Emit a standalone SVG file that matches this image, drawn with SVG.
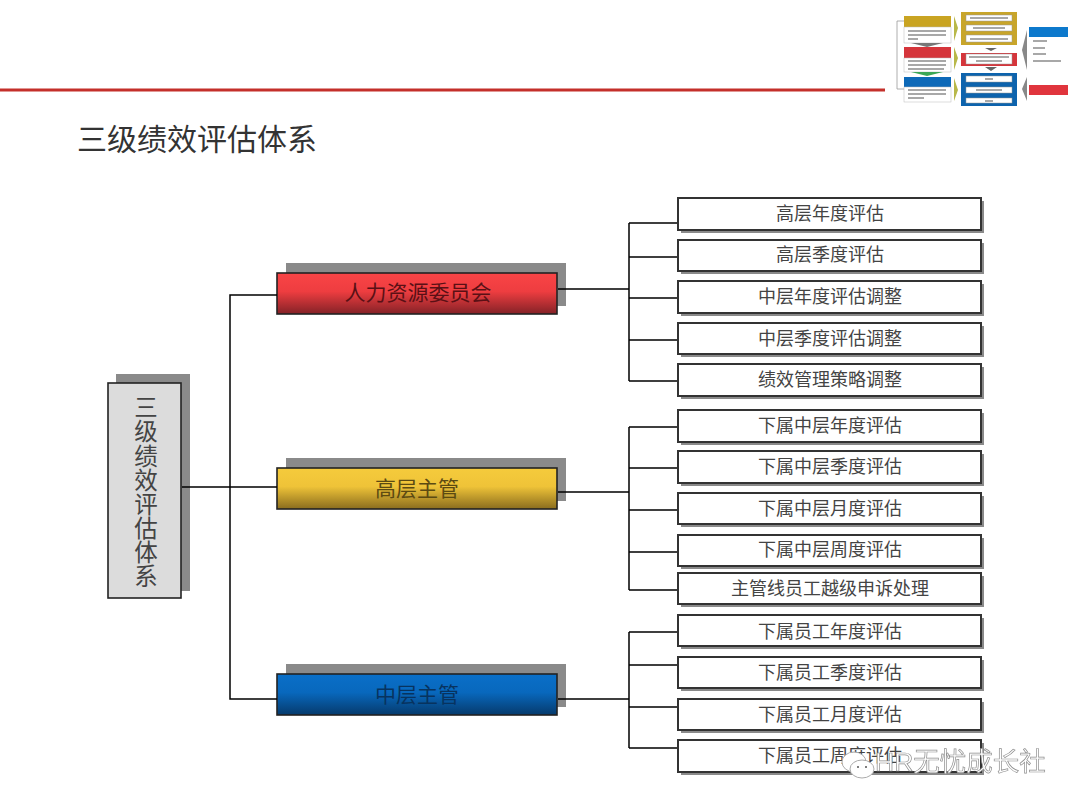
<svg xmlns="http://www.w3.org/2000/svg" width="1080" height="810" viewBox="0 0 1080 810">
<style>
text{font-family:"Liberation Sans","Noto Sans CJK SC",sans-serif}
.cn{fill:none;stroke:#000;stroke-width:1.5}
.lf{fill:#fff;stroke:#333;stroke-width:2}
.sh{fill:#8a8a8a}
.lt{font-size:18px;fill:#444;text-anchor:middle}
.hd{stroke:#222;stroke-width:1.6}
.ht{font-size:21px;text-anchor:middle}
.vt{font-size:23.5px;fill:#444;text-anchor:middle}
.tw{fill:#fff;stroke:#999;stroke-width:.5}
.tl{fill:#a8a8a8}
</style>
<defs>
<linearGradient id="r" x1="0" y1="0" x2="0" y2="1"><stop offset="0" stop-color="#f94446"/><stop offset=".45" stop-color="#ee3d40"/><stop offset="1" stop-color="#842227"/></linearGradient>
<linearGradient id="y" x1="0" y1="0" x2="0" y2="1"><stop offset="0" stop-color="#f5cb3c"/><stop offset=".45" stop-color="#efc338"/><stop offset="1" stop-color="#8a6d1e"/></linearGradient>
<linearGradient id="b" x1="0" y1="0" x2="0" y2="1"><stop offset="0" stop-color="#0a6fc8"/><stop offset=".45" stop-color="#0868bd"/><stop offset="1" stop-color="#063a6c"/></linearGradient>
<filter id="soft" x="-5%" y="-5%" width="110%" height="110%"><feGaussianBlur stdDeviation=".7"/></filter>
<filter id="wm" x="-5%" y="-20%" width="110%" height="140%"><feGaussianBlur stdDeviation=".35"/></filter>
</defs>
<rect width="1080" height="810" fill="#fff"/>
<line x1="0" y1="90" x2="885" y2="90" stroke="#c4302b" stroke-width="2.8"/>
<text x="77" y="150" font-size="30" fill="#333">三级绩效评估体系</text>

<g id="thumbnail" filter="url(#soft)">
<path d="M904 21H897V89H904" fill="none" stroke="#999" stroke-width=".8"/>
<rect x="904" y="16" width="47" height="11" fill="#c9a420"/>
<rect x="904" y="27" width="47" height="16" fill="#fff" stroke="#bbb" stroke-width=".5"/>
<rect class="tl" x="908" y="30" width="38" height="2"/><rect class="tl" x="908" y="34" width="38" height="2"/><rect class="tl" x="908" y="38" width="10" height="2"/>
<path d="M911 43H943L927 47Z" fill="#777"/>
<rect x="904" y="47" width="47" height="11" fill="#d5343a"/>
<rect x="904" y="58" width="47" height="14" fill="#fff" stroke="#bbb" stroke-width=".5"/>
<rect class="tl" x="908" y="60" width="38" height="2"/><rect class="tl" x="908" y="64" width="38" height="2"/><rect class="tl" x="908" y="68" width="36" height="2"/>
<path d="M911 72H943L927 76Z" fill="#3aa655"/>
<rect x="904" y="77" width="47" height="10" fill="#0b69b8"/>
<rect x="904" y="87" width="47" height="15" fill="#fff" stroke="#bbb" stroke-width=".5"/>
<rect class="tl" x="908" y="89" width="38" height="2"/><rect class="tl" x="908" y="93" width="38" height="2"/><rect class="tl" x="908" y="97" width="16" height="2"/>
<path d="M954 16L958 28L954 41Z" fill="#b8b84a"/>
<path d="M954 47L958 58L954 70Z" fill="#b8b84a"/>
<path d="M954 78L958 90L954 101Z" fill="#b8b84a"/>
<rect x="961" y="12" width="56" height="33" fill="#c8a52a"/>
<rect x="966" y="15" width="46" height="6" class="tw"/><rect class="tl" x="970" y="17" width="38" height="2"/>
<rect x="966" y="25" width="46" height="6" class="tw"/><rect class="tl" x="973" y="27" width="32" height="2"/>
<rect x="966" y="35" width="46" height="7" class="tw"/><rect class="tl" x="970" y="38" width="38" height="2"/>
<path d="M985 48H997L991 51Z" fill="#666"/>
<rect x="961" y="53" width="56" height="13" fill="#d5343a"/>
<rect x="966" y="54" width="46" height="10" class="tw"/><rect class="tl" x="969" y="56" width="40" height="2"/><rect class="tl" x="976" y="60" width="26" height="2"/>
<path d="M985 67H997L991 71Z" fill="#666"/>
<rect x="961" y="73" width="56" height="33" fill="#0b63ad"/>
<rect x="966" y="76" width="46" height="6" class="tw"/><rect class="tl" x="985" y="78" width="8" height="2"/>
<rect x="966" y="87" width="46" height="6" class="tw"/><rect class="tl" x="976" y="89" width="26" height="2"/>
<rect x="966" y="98" width="46" height="5" class="tw"/><rect class="tl" x="985" y="100" width="8" height="2"/>
<path d="M1027 30L1022 50L1027 70Z" fill="#888"/>
<path d="M1027 77L1022 89L1027 101Z" fill="#888"/>
<rect x="1029" y="27" width="39" height="10" fill="#0b79cc"/>
<rect x="1029" y="85" width="39" height="10" fill="#e0353c"/>
<rect class="tl" x="1033" y="40" width="14" height="2"/>
<rect class="tl" x="1033" y="47" width="12" height="2"/>
<rect class="tl" x="1033" y="53" width="13" height="2"/>
<rect class="tl" x="1033" y="60" width="28" height="2"/>
</g>

<g id="root">
<rect class="sh" x="116" y="374" width="74" height="217"/>
<rect x="108" y="383" width="73" height="215" fill="#dcdcdc" stroke="#222" stroke-width="1.6"/>
<text class="vt" x="146" y="416">三</text>
<text class="vt" x="146" y="440">级</text>
<text class="vt" x="146" y="465">绩</text>
<text class="vt" x="146" y="489">效</text>
<text class="vt" x="146" y="513">评</text>
<text class="vt" x="146" y="537">估</text>
<text class="vt" x="146" y="561">体</text>
<text class="vt" x="146" y="585">系</text>
</g>

<g id="hr-committee">
<rect class="sh" x="286" y="263" width="280" height="43"/>
<rect class="hd" x="277" y="273" width="280" height="41" fill="url(#r)"/>
<text class="ht" x="418" y="300" fill="#5a1015">人力资源委员会</text>
</g>
<g id="senior-manager">
<rect class="sh" x="286" y="458" width="280" height="43"/>
<rect class="hd" x="277" y="468" width="280" height="41" fill="url(#y)"/>
<text class="ht" x="417" y="496" fill="#5c4a12">高层主管</text>
</g>
<g id="middle-manager">
<rect class="sh" x="286" y="664" width="280" height="43"/>
<rect class="hd" x="277" y="674" width="280" height="41" fill="url(#b)"/>
<text class="ht" x="417" y="702" fill="#07335f">中层主管</text>
</g>

<g id="connectors">
<path class="cn" d="M182 487H277M230 487V295H277M230 487V699H277"/>
<path class="cn" d="M558 289H629M629 223V381M629 223H678M629 257H678M629 298H678M629 340H678M629 381H678"/>
<path class="cn" d="M558 492H629M629 427V590M629 427H678M629 468H678M629 510H678M629 552H678M629 590H678"/>
<path class="cn" d="M558 699H629M629 632V748M629 632H678M629 665H678M629 707H678M629 748H678"/>
</g>

<g id="l1"><rect class="sh" x="681" y="201" width="303" height="32"/><rect class="lf" x="678" y="198" width="303" height="32"/><text class="lt" x="830" y="220">高层年度评估</text></g>
<g id="l2"><rect class="sh" x="681" y="243" width="303" height="31"/><rect class="lf" x="678" y="240" width="303" height="31"/><text class="lt" x="830" y="261">高层季度评估</text></g>
<g id="l3"><rect class="sh" x="681" y="284" width="303" height="32"/><rect class="lf" x="678" y="281" width="303" height="32"/><text class="lt" x="830" y="303">中层年度评估调整</text></g>
<g id="l4"><rect class="sh" x="681" y="326" width="303" height="31"/><rect class="lf" x="678" y="323" width="303" height="31"/><text class="lt" x="830" y="345">中层季度评估调整</text></g>
<g id="l5"><rect class="sh" x="681" y="367" width="303" height="32"/><rect class="lf" x="678" y="364" width="303" height="32"/><text class="lt" x="830" y="386">绩效管理策略调整</text></g>
<g id="l6"><rect class="sh" x="681" y="413" width="303" height="32"/><rect class="lf" x="678" y="410" width="303" height="32"/><text class="lt" x="830" y="432">下属中层年度评估</text></g>
<g id="l7"><rect class="sh" x="681" y="454" width="303" height="32"/><rect class="lf" x="678" y="451" width="303" height="32"/><text class="lt" x="830" y="473">下属中层季度评估</text></g>
<g id="l8"><rect class="sh" x="681" y="496" width="303" height="31"/><rect class="lf" x="678" y="493" width="303" height="31"/><text class="lt" x="830" y="515">下属中层月度评估</text></g>
<g id="l9"><rect class="sh" x="681" y="538" width="303" height="31"/><rect class="lf" x="678" y="535" width="303" height="31"/><text class="lt" x="830" y="556">下属中层周度评估</text></g>
<g id="l10"><rect class="sh" x="681" y="576" width="303" height="31"/><rect class="lf" x="678" y="573" width="303" height="31"/><text class="lt" x="830" y="595">主管线员工越级申诉处理</text></g>
<g id="l11"><rect class="sh" x="681" y="618" width="303" height="31"/><rect class="lf" x="678" y="615" width="303" height="31"/><text class="lt" x="830" y="638">下属员工年度评估</text></g>
<g id="l12"><rect class="sh" x="681" y="660" width="303" height="31"/><rect class="lf" x="678" y="657" width="303" height="31"/><text class="lt" x="830" y="679">下属员工季度评估</text></g>
<g id="l13"><rect class="sh" x="681" y="702" width="303" height="31"/><rect class="lf" x="678" y="699" width="303" height="31"/><text class="lt" x="830" y="721">下属员工月度评估</text></g>
<g id="l14"><rect class="sh" x="681" y="743" width="303" height="32"/><rect class="lf" x="678" y="740" width="303" height="32"/><text class="lt" x="830" y="762">下属员工周度评估</text></g>

<g id="watermark" filter="url(#wm)">
<ellipse cx="854" cy="762" rx="12" ry="10" fill="#fff" stroke="#aaa" stroke-width="1"/>
<ellipse cx="862" cy="769" rx="12" ry="9" fill="#fff" stroke="#aaa" stroke-width="1"/>
<circle cx="858" cy="767" r="1" fill="#555"/><circle cx="866" cy="767" r="1" fill="#555"/>
<text x="875" y="771" font-size="26.5" fill="#fff" stroke="#8f8f8f" stroke-width=".7">HR无忧成长社</text>
</g>
</svg>
